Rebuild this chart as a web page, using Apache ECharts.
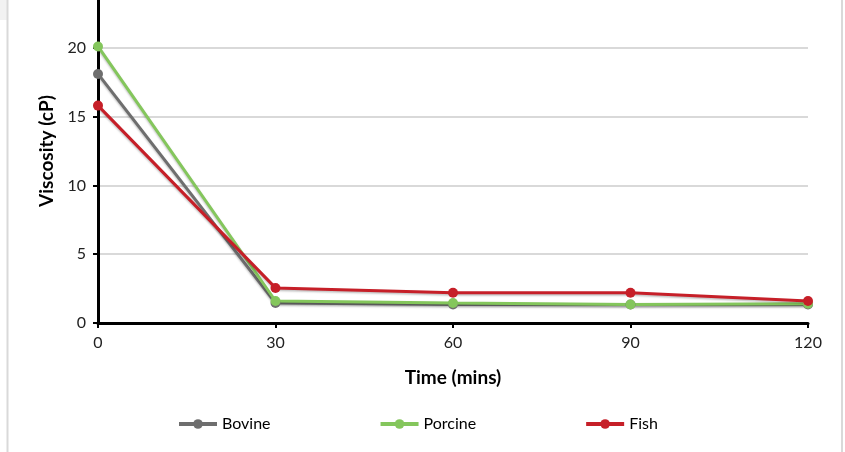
<!DOCTYPE html>
<html>
<head>
<meta charset="utf-8">
<script src="https://cdn.jsdelivr.net/npm/echarts@6/dist/echarts.min.js"></script>
<style>
  html, body { margin: 0; padding: 0; background: #fff; }
  #chart { width: 845px; height: 452px; }
</style>
</head>
<body>
<div id="chart"></div>
<script>
// time points (mins)
const times = [0, 30, 60, 90, 120]
// viscosity (cP)
const bovine = [18.1, 1.45, 1.35, 1.35, 1.35]
const porcine = [20.1, 1.6, 1.45, 1.35, 1.4]
const fish = [15.8, 2.55, 2.2, 2.2, 1.6]

const font = 'Lato, "Noto Sans", sans-serif'

const pairs = arr => times.map((t, i) => [t, arr[i]])

function line (name, color, values) {
  return {
    name: name,
    type: 'line',
    data: pairs(values),
    symbol: 'circle',
    symbolSize: 10,
    itemStyle: { color: color },
    lineStyle: {
      width: 3,
      color: color,
      shadowColor: 'rgba(0,0,0,0.25)',
      shadowBlur: 2,
      shadowOffsetY: 1.5
    },
    emphasis: { disabled: true }
  }
}

const chart = echarts.init(document.getElementById('chart'))
chart.setOption({
  animation: false,
  textStyle: { fontFamily: font },
  grid: { left: 98, right: 37, top: -21, bottom: 129, outerBoundsMode: 'none', containLabel: false },
  graphic: [
    // frame edges of the original figure
    { type: 'rect', shape: { x: 0, y: 0, width: 7, height: 20 }, style: { fill: '#f2f2f2' } },
    { type: 'line', shape: { x1: 7.5, y1: 0, x2: 7.5, y2: 452 }, style: { stroke: '#d9d9d9', lineWidth: 2 } },
    { type: 'line', shape: { x1: 842, y1: 0, x2: 842, y2: 452 }, style: { stroke: '#d9d9d9', lineWidth: 2 } }
  ],
  xAxis: {
    type: 'value',
    min: 0,
    max: 120,
    interval: 30,
    name: 'Time (mins)',
    nameLocation: 'middle',
    nameGap: 45,
    nameTextStyle: { fontWeight: 'bold', fontSize: 19, color: '#000', fontFamily: font },
    axisLine: { lineStyle: { color: '#000', width: 3 } },
    axisTick: { show: true, length: 5, lineStyle: { color: '#000', width: 2 } },
    axisLabel: { color: '#222', fontSize: 16, margin: 12, fontFamily: font },
    splitLine: { show: false }
  },
  yAxis: {
    type: 'value',
    min: 0,
    max: 25,
    interval: 5,
    name: 'Viscosity (cP)',
    nameLocation: 'middle',
    nameGap: 38,
    nameRotate: 90,
    nameTextStyle: { fontWeight: 'bold', fontSize: 19, color: '#000', fontFamily: font },
    axisLine: { show: true, lineStyle: { color: '#000', width: 3 } },
    axisTick: { show: true, length: 5, lineStyle: { color: '#000', width: 2 } },
    axisLabel: { color: '#222', fontSize: 16, margin: 12, fontFamily: font },
    splitLine: { show: true, lineStyle: { color: '#d9d9d9', width: 2 } }
  },
  legend: {
    left: 177,
    top: 416,
    padding: 0,
    itemWidth: 38,
    itemHeight: 12,
    itemGap: 108,
    lineStyle: { width: 4 },
    textStyle: { color: '#000', fontSize: 16, fontFamily: font },
    data: ['Bovine', 'Porcine', 'Fish']
  },
  series: [
    line('Bovine', '#6e6e6e', bovine),
    line('Porcine', '#84c65c', porcine),
    line('Fish', '#c61f28', fish)
  ]
})
</script>
</body>
</html>
